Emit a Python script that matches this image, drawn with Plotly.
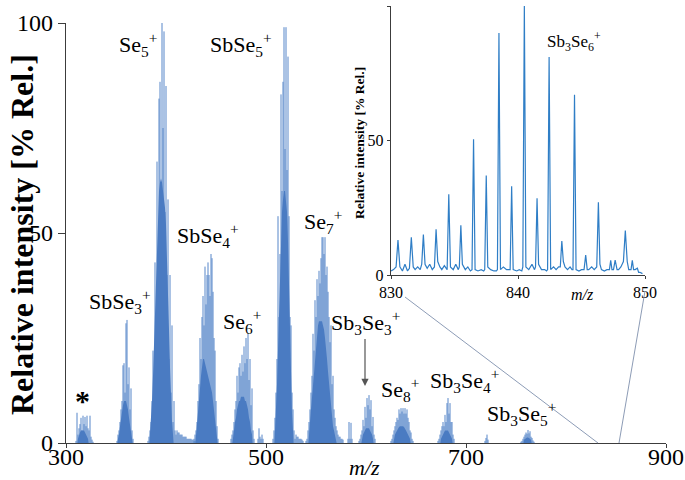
import plotly.graph_objects as go

# ---------------- data (m/z start, intensities at consecutive integer m/z) ----------------
ast_start = 310
ast_spk = [0.5, 7.2, 2, 3.5, 4.5, 6, 3, 6.5, 4.5, 6.2, 4, 6.5, 3.5, 3, 6.5, 1.5, 0.8, 0.3]
ast_core_start = 312
ast_core = [1, 2, 2.5, 3, 3, 3, 3, 2.5, 2, 1.5, 1]

sbse3_start = 351
sbse3_spk = [0.5, 2, 3, 5, 8, 10, 18.5, 19, 12, 28.5, 29.3, 14, 18, 8, 13, 3, 1]
sbse3_core_start = 352
sbse3_core = [1, 2, 4, 6, 8, 9, 10, 10, 10, 9, 8, 6, 4, 2, 1]

se5_start = 382
se5_spk = [0.5, 1.5, 3, 5, 10, 22, 15, 43, 30, 67, 45, 82, 86, 60, 100, 75, 98, 55, 85, 40,
           58, 20, 40, 12, 28, 5, 10, 3, 2]
se5_core_start = 384
se5_core = [2, 5, 10, 16, 24, 33, 42, 50, 56, 60, 62, 63, 62, 60, 58, 56, 52, 45, 36, 27, 18, 10, 5, 2]

tail1_start = 411
tail1 = [3, 2.5, 2.5, 2, 2, 2, 1.5, 1.5, 1.5, 1.5, 1, 1, 1, 1, 1, 0.8, 0.8, 0.5, 0.5]

sbse4_start = 428
sbse4_spk = [1, 2, 3, 5, 10, 14, 25, 20, 30, 35, 28, 42, 33, 40, 43, 40, 35, 45, 44, 36, 25, 22, 10, 4, 1]
sbse4_core_start = 430
sbse4_core = [2, 4, 7, 10, 13, 16, 18, 20, 20, 19, 18, 17, 16, 15, 14, 13, 12, 10, 8, 5, 3, 1]

se6_start = 465
se6_spk = [1, 2, 3, 5, 8, 10, 16, 12, 18, 19, 16, 21, 17, 23, 19, 25, 20, 26, 15, 20, 9, 13, 3, 1]
se6_core_start = 467
se6_core = [2, 3, 5, 6, 8, 9, 10, 10, 11, 11, 11, 11, 10, 10, 9, 8, 6, 5, 3, 2]

small_a_start = 492
small_a = [1, 3.5, 1.5, 1, 2, 1]

sbse5_start = 507
sbse5_spk = [1, 3, 6, 12, 20, 54, 30, 45, 83, 60, 86, 99, 70, 99, 65, 92, 54, 30, 28, 12, 8, 3, 1]
sbse5_core_start = 509
sbse5_core = [3, 8, 14, 22, 32, 42, 50, 55, 58, 60, 60, 58, 55, 48, 38, 26, 15, 7, 3]

tail2_start = 530
tail2 = [2, 1.5, 1.5, 1, 1, 1, 0.8, 0.5]

se7_start = 540
se7_spk = [0.5, 1, 3, 5, 8, 12, 16, 26, 22, 34, 30, 39, 35, 41, 38, 44, 49, 49, 45, 49, 40, 42,
           36, 30, 24, 28, 14, 16, 8, 6, 4, 3, 2]
se7_core_start = 543
se7_core = [3, 5, 8, 11, 14, 18, 21, 24, 26, 28, 29, 29, 29, 29, 28, 27, 25, 23, 20, 17, 14, 11,
            8, 6, 4, 3, 2, 1]

tail3_start = 573
tail3 = [1.5, 1.5, 1, 1, 0.8]

small_b_start = 582
small_b = [1, 5, 1, 4.8, 1]

sb3se3_start = 593
sb3se3_spk = [0.5, 1, 2, 3, 5.5, 4, 8.6, 6, 10.7, 9, 11.4, 8, 10.2, 4, 6.2, 2, 1]
sb3se3_core_start = 596
sb3se3_core = [1, 2, 2.5, 3, 3.5, 3.5, 3.5, 3.5, 3, 2.5, 2, 1]

se8_start = 625
se8_spk = [0.5, 1, 2, 3, 4, 5, 6, 5.5, 8, 7, 8.3, 7.5, 8.3, 7, 8.3, 7, 8, 6, 5, 3, 2.5, 1, 0.5]
se8_core_start = 628
se8_core = [1, 2, 2.5, 3, 3.5, 3.8, 4, 4, 4, 4, 3.8, 3.5, 3, 2.5, 2, 1.5, 1]

sb3se4_start = 672
sb3se4_spk = [0.5, 1, 2, 3, 4, 5, 4, 6.7, 5, 9.5, 10.7, 7, 9.5, 5, 5, 2, 1]
sb3se4_core_start = 675
sb3se4_core = [1, 1.5, 2, 2.5, 3, 3, 3, 3, 2.5, 2, 1.5, 1]

small_c_start = 719
small_c = [0.5, 1.2, 2, 0.8]

sb3se5_start = 755
sb3se5_spk = [0.3, 0.5, 1, 1.5, 2, 2.5, 2.2, 3.1, 2.3, 2.8, 1.5, 1.2, 0.6, 0.3]
sb3se5_core_start = 758
sb3se5_core = [0.8, 1, 1.2, 1.3, 1.3, 1.2, 1, 0.7]

# inset profile (Sb3Se6+ region)
inset_mz = [830.0, 830.2, 830.4, 830.55, 830.7, 830.9, 831.1, 831.3, 831.45, 831.6, 831.75, 831.9,
            832.1, 832.3, 832.42, 832.55, 832.68, 832.85, 833.05, 833.25, 833.42, 833.55, 833.68, 833.85,
            834.0, 834.2, 834.42, 834.55, 834.68, 834.9, 835.1, 835.3, 835.38, 835.5, 835.62, 835.85,
            836.05, 836.25, 836.38, 836.5, 836.62, 836.85, 837.1, 837.3, 837.38, 837.5, 837.62, 837.85,
            838.1, 838.3, 838.38, 838.5, 838.62, 838.85, 839.1, 839.3, 839.38, 839.5, 839.62, 839.9,
            840.1, 840.3, 840.38, 840.5, 840.62, 840.85, 841.1, 841.3, 841.38, 841.5, 841.62, 841.85,
            842.1, 842.25, 842.33, 842.45, 842.57, 842.8, 843.0, 843.2, 843.33, 843.45, 843.57, 843.7,
            843.9, 844.1, 844.25, 844.33, 844.45, 844.57, 844.8, 845.0, 845.2, 845.33, 845.45, 845.57,
            845.8, 846.0, 846.2, 846.33, 846.45, 846.57, 846.8, 847.0, 847.2, 847.3, 847.4, 847.52,
            847.65, 847.8, 847.92, 848.1, 848.3, 848.45, 848.6, 848.72, 848.9, 849.0, 849.1, 849.22,
            849.4, 849.5, 849.6, 849.8, 850.0]
inset_int = [1.5, 2, 3, 13, 3, 1.5, 4, 1.5, 2.5, 14, 3, 2,
             3, 2, 4, 15, 4, 2.5, 4, 2, 3, 17, 5, 3,
             2, 3.5, 2, 30, 3, 2, 4, 2, 3, 18.5, 4, 2,
             3, 1.5, 2, 50.5, 2, 1.5, 2, 1.5, 2, 37, 3, 2,
             1.5, 1.5, 2, 90, 2, 3, 2, 2, 2, 33, 2, 1.5,
             2, 1.5, 3, 100, 3, 2, 4, 2, 3, 28.5, 4, 2,
             2, 1.5, 2, 81, 2, 3, 2, 3, 3, 12.6, 5, 3,
             2, 3, 2, 2, 67, 2, 1.5, 2, 2, 7.4, 2,
             2, 3, 2, 3, 27, 4, 2, 1.5, 2, 2, 5.5, 2,
             2, 5.5, 2, 2, 3, 5, 16.5, 5, 2, 2, 5.5, 2,
             2, 2.5, 1, 1, 0.5]

main_ticks = [300, 500, 700, 900]
main_tick_text = ['300', '500', '700', '900']
inset_ticks = [830, 840, 850]
y_ticks = [0, 50, 100]

# ---------------- figure ----------------
spike_sets = [(ast_start, ast_spk), (sbse3_start, sbse3_spk), (se5_start, se5_spk), (tail1_start, tail1),
              (sbse4_start, sbse4_spk), (se6_start, se6_spk), (small_a_start, small_a),
              (sbse5_start, sbse5_spk), (tail2_start, tail2), (se7_start, se7_spk), (tail3_start, tail3),
              (small_b_start, small_b), (sb3se3_start, sb3se3_spk), (se8_start, se8_spk),
              (sb3se4_start, sb3se4_spk), (small_c_start, small_c), (sb3se5_start, sb3se5_spk)]
core_sets = [(ast_core_start, ast_core), (sbse3_core_start, sbse3_core), (se5_core_start, se5_core),
             (sbse4_core_start, sbse4_core), (se6_core_start, se6_core), (sbse5_core_start, sbse5_core),
             (se7_core_start, se7_core), (sb3se3_core_start, sb3se3_core), (se8_core_start, se8_core),
             (sb3se4_core_start, sb3se4_core), (sb3se5_core_start, sb3se5_core)]

sx, sy = [], []
for st, vals in spike_sets:
    for i, v in enumerate(vals):
        m = st + i
        sx += [m, m, None]
        sy += [0, v, None]

cx, cy = [300], [0]
for st, vals in core_sets:
    cx.append(st - 0.6); cy.append(0)
    for i, v in enumerate(vals):
        cx.append(st + i); cy.append(v)
    cx.append(st + len(vals) - 0.4); cy.append(0)
cx.append(900); cy.append(0)

n = min(len(inset_mz), len(inset_int))

fig = go.Figure()
fig.add_trace(go.Scatter(x=sx, y=sy, mode='lines', line=dict(color='#5686c9', width=1.0),
                         hoverinfo='skip', xaxis='x', yaxis='y'))
fig.add_trace(go.Scatter(x=cx, y=cy, mode='lines', line=dict(color='#4a7bc2', width=0),
                         fill='tozeroy', fillcolor='#4a7bc2', hoverinfo='skip', xaxis='x', yaxis='y'))
fig.add_trace(go.Scatter(x=inset_mz[:n], y=inset_int[:n], mode='lines', line=dict(color='#2f7ec6', width=1.2),
                         hoverinfo='skip', xaxis='x2', yaxis='y2'))

# screenshot-pixel geometry (page body margin is removed below)
W, H = 685, 480
S_L, S_R, S_T, S_B = 66, 666, 6, 443


def px(xs):
    return (xs - S_L) / (S_R - S_L)


def py(ys):
    return (S_B - ys) / (S_B - S_T)


SERIF = 'Liberation Serif, Times New Roman, serif'
AX = '#3c3c3c'

fig.update_layout(
    width=W, height=H,
    margin=dict(l=S_L, r=W - S_R, t=S_T, b=H - S_B, autoexpand=False),
    plot_bgcolor='white', paper_bgcolor='white', showlegend=False,
    font=dict(family=SERIF, color='black'),
    xaxis=dict(domain=[0, 1], range=[300, 900], tickvals=main_ticks, ticks='outside', ticklen=4,
               tickcolor=AX, showline=True, linecolor=AX, linewidth=1.3, showgrid=False, zeroline=False,
               showticklabels=False, anchor='y', automargin=False),
    yaxis=dict(domain=[0, py(23)], range=[0, 100], tickvals=y_ticks, ticks='outside', ticklen=7,
               tickcolor=AX, showline=True, linecolor=AX, linewidth=1.3, showgrid=False, zeroline=False,
               tickfont=dict(size=24, family=SERIF), anchor='x', automargin=False),
    xaxis2=dict(domain=[px(391), px(645)], range=[830, 850], tickvals=inset_ticks, ticks='outside',
                ticklen=3, tickcolor=AX, showline=True, linecolor=AX, linewidth=1.2, showgrid=False,
                zeroline=False, tickfont=dict(size=16, family=SERIF), anchor='y2', automargin=False),
    yaxis2=dict(domain=[py(275), 1], range=[0, 100], tickvals=y_ticks, ticks='outside', ticklen=3,
                tickcolor=AX, showline=True, linecolor=AX, linewidth=1.2, showgrid=False, zeroline=False,
                tickfont=dict(size=16, family=SERIF), anchor='x2', automargin=False),
)

anns = []


def label(text, xs, ys, size, **kw):
    d = dict(text=text, x=px(xs), y=py(ys), xref='paper', yref='paper', showarrow=False,
             font=dict(size=size, family=SERIF, color='black'), xanchor='center', yanchor='middle')
    d.update(kw)
    anns.append(d)


# main x tick labels placed at the tick values
for v, t in zip(main_ticks, main_tick_text):
    anns.append(dict(text=t, x=v, xref='x', y=py(457), yref='paper', showarrow=False,
                     font=dict(size=24, family=SERIF, color='black'), xanchor='center', yanchor='middle'))

label('Se<sub>5</sub><sup>+</sup>', 138, 44, 22)
label('SbSe<sub>5</sub><sup>+</sup>', 241, 44, 22)
label('SbSe<sub>4</sub><sup>+</sup>', 208, 235, 22)
label('SbSe<sub>3</sub><sup>+</sup>', 120, 301, 22)
label('Se<sub>6</sub><sup>+</sup>', 242, 321, 22)
label('Se<sub>7</sub><sup>+</sup>', 323, 221, 22)
label('Se<sub>8</sub><sup>+</sup>', 400, 389, 22)
label('Sb<sub>3</sub>Se<sub>4</sub><sup>+</sup>', 464, 380, 22)
label('Sb<sub>3</sub>Se<sub>5</sub><sup>+</sup>', 521, 413, 22)
label('Sb<sub>3</sub>Se<sub>6</sub><sup>+</sup>', 574, 42, 17)
label('<b>*</b>', 82, 400, 30)
label('<b>Relative intensity [% Rel.]</b>', 22, 235, 32, textangle=-90)
label('<b>Relative intensity [% Rel.]</b>', 359, 143, 13.5, textangle=-90)
label('<i>m/z</i>', 364, 467, 22)
label('<i>m/z</i>', 582, 294, 16)

# Sb3Se3+ with arrow
anns.append(dict(text='Sb<sub>3</sub>Se<sub>3</sub><sup>+</sup>', x=px(365), y=py(386), xref='paper',
                 yref='paper', showarrow=True, ax=0, ay=-64, arrowhead=2, arrowsize=1.2, arrowwidth=1.2,
                 arrowcolor='#555555', font=dict(size=22, family=SERIF, color='black')))

fig.update_layout(annotations=anns)

shapes = [
    dict(type='line', xref='paper', yref='paper', x0=px(598), y0=py(443), x1=px(405), y1=py(297),
         line=dict(color='#8d9cb6', width=1)),
    dict(type='line', xref='paper', yref='paper', x0=px(619), y0=py(443), x1=px(645), y1=py(291),
         line=dict(color='#8d9cb6', width=1)),
]
fig.update_layout(shapes=shapes)

fig.write_html('out.html', config={'displayModeBar': False, 'staticPlot': True},
               post_script="document.body.style.margin='0';document.body.style.overflow='hidden';")
